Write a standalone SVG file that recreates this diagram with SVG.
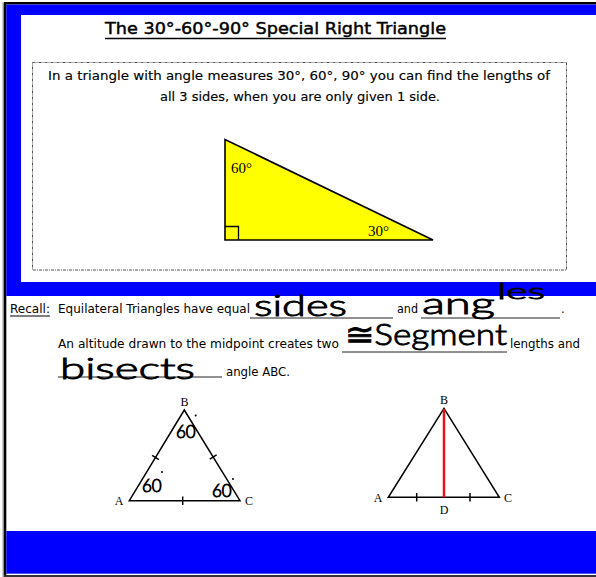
<svg xmlns="http://www.w3.org/2000/svg" width="596" height="577" viewBox="0 0 596 577">
<style>
.t{font-family:"DejaVu Sans","Liberation Sans",sans-serif;fill:#000}
.s{font-family:"Liberation Serif","DejaVu Serif",serif;fill:#000}
.hw{font-family:"Lato","Open Sans",sans-serif;font-weight:300;fill:#000;stroke:#000;stroke-width:0.9}
.ln{stroke:#000;stroke-width:1.5;fill:none}
.blank{stroke:#222;stroke-width:1}
</style>
<rect width="596" height="577" fill="#fff"/>
<g id="frame">
<line x1="3" y1="2" x2="3" y2="577" stroke="#999" stroke-width="1"/>
<line x1="5" y1="3.3" x2="5" y2="577" stroke="#000" stroke-width="2.6"/>
<line x1="4" y1="3.3" x2="596" y2="3.3" stroke="#000" stroke-width="2.6"/>
<rect x="6.3" y="4.6" width="590" height="291.4" fill="#0000ff"/>
<rect x="21" y="15" width="575" height="267" fill="#fff"/>
<rect x="6.3" y="531" width="590" height="42.7" fill="#0000ff"/>
<line x1="4" y1="576" x2="596" y2="576" stroke="#333" stroke-width="2"/>
</g>
<g id="title">
<text class="t" x="105" y="34" font-size="16" stroke="#000" stroke-width="0.45" textLength="341" lengthAdjust="spacingAndGlyphs">The 30°-60°-90° Special Right Triangle</text>
<line x1="105" y1="38.5" x2="446" y2="38.5" stroke="#000" stroke-width="1.3"/>
</g>
<g id="infobox">
<rect x="32.5" y="62.5" width="534" height="207.5" fill="none" stroke="#555" stroke-width="1" stroke-dasharray="3 1 1 1"/>
<text class="t" x="48" y="80" font-size="13" stroke="#000" stroke-width="0.15" textLength="502" lengthAdjust="spacingAndGlyphs">In a triangle with angle measures 30°, 60°, 90° you can find the lengths of</text>
<text class="t" x="160" y="101" font-size="13" stroke="#000" stroke-width="0.15" textLength="280" lengthAdjust="spacingAndGlyphs">all 3 sides, when you are only given 1 side.</text>
</g>
<g id="right-triangle">
<polygon points="225,139.5 225,240 433,240" fill="#ffff00" stroke="#000" stroke-width="1.6" stroke-linejoin="miter"/>
<polyline points="225,226.5 238.5,226.5 238.5,240" fill="none" stroke="#000" stroke-width="1.3"/>
<text class="s" x="231" y="173" font-size="15">60°</text>
<text class="s" x="368" y="236" font-size="15">30°</text>
</g>
<g id="recall">
<text class="t" x="10" y="313" font-size="11.5" textLength="40" lengthAdjust="spacingAndGlyphs">Recall:</text>
<line x1="10" y1="316" x2="50" y2="316" stroke="#000" stroke-width="1"/>
<text class="t" x="58" y="313" font-size="11.5" textLength="192" lengthAdjust="spacingAndGlyphs">Equilateral Triangles have equal</text>
<line class="blank" x1="250" y1="318" x2="393" y2="318"/>
<text class="t" x="397" y="313" font-size="11.5" textLength="21" lengthAdjust="spacingAndGlyphs">and</text>
<line class="blank" x1="421" y1="318" x2="560" y2="318"/>
<text class="t" x="561" y="313" font-size="11.5">.</text>
<text class="t" x="58" y="348" font-size="11.5" textLength="281" lengthAdjust="spacingAndGlyphs">An altitude drawn to the midpoint creates two</text>
<line class="blank" x1="342" y1="352" x2="507" y2="352"/>
<text class="t" x="510" y="348" font-size="11.5" textLength="70" lengthAdjust="spacingAndGlyphs">lengths and</text>
<line class="blank" x1="58" y1="377" x2="222" y2="377"/>
<text class="t" x="226" y="376" font-size="11.5" textLength="64" lengthAdjust="spacingAndGlyphs">angle ABC.</text>
</g>
<g id="handwriting">
<text class="hw" x="254" y="316" font-size="30" textLength="93" lengthAdjust="spacingAndGlyphs">sides</text>
<text class="hw" font-size="30"><tspan x="422" y="314" textLength="73" lengthAdjust="spacingAndGlyphs">ang</tspan><tspan x="497" y="299" font-size="22" textLength="48" lengthAdjust="spacingAndGlyphs">les</tspan></text>
<text class="hw" x="345" y="345" font-size="30" textLength="162" lengthAdjust="spacingAndGlyphs">≅Segment</text>
<text class="hw" x="60" y="379" font-size="29" textLength="135" lengthAdjust="spacingAndGlyphs">bisects</text>
</g>
<g id="triangle-abc">
<polygon class="ln" points="184.3,410 129.3,500.7 240,500.7"/>
<line class="ln" x1="152.1" y1="455.4" x2="158.9" y2="459.6"/>
<line class="ln" x1="209.8" y1="459.1" x2="216.6" y2="454.9"/>
<line class="ln" x1="182.7" y1="496.5" x2="182.7" y2="505"/>
<text class="s" x="184.5" y="406" font-size="12" text-anchor="middle">B</text>
<text class="s" x="119" y="505" font-size="12" text-anchor="middle">A</text>
<text class="s" x="249" y="505" font-size="12" text-anchor="middle">C</text>
<text class="hw" x="176" y="438" font-size="17" stroke-width="0.6">60</text>
<text class="hw" x="142" y="492" font-size="17" stroke-width="0.6">60</text>
<text class="hw" x="212" y="497" font-size="17" stroke-width="0.6">60</text>
<circle cx="195.7" cy="415.5" r="1"/>
<circle cx="162" cy="472" r="1"/>
<circle cx="233" cy="479" r="1"/>
</g>
<g id="triangle-abd">
<polygon class="ln" points="444,408.3 388.3,497.3 499.3,497.3"/>
<line x1="444" y1="409" x2="444" y2="497.3" stroke="#e8141b" stroke-width="2.5"/>
<line class="ln" x1="416.7" y1="493" x2="416.7" y2="501.5"/>
<line class="ln" x1="470" y1="493" x2="470" y2="501.5"/>
<text class="s" x="444" y="404" font-size="12" text-anchor="middle">B</text>
<text class="s" x="378" y="502" font-size="12" text-anchor="middle">A</text>
<text class="s" x="508" y="502" font-size="12" text-anchor="middle">C</text>
<text class="s" x="444" y="514" font-size="12" text-anchor="middle">D</text>
</g>
</svg>
